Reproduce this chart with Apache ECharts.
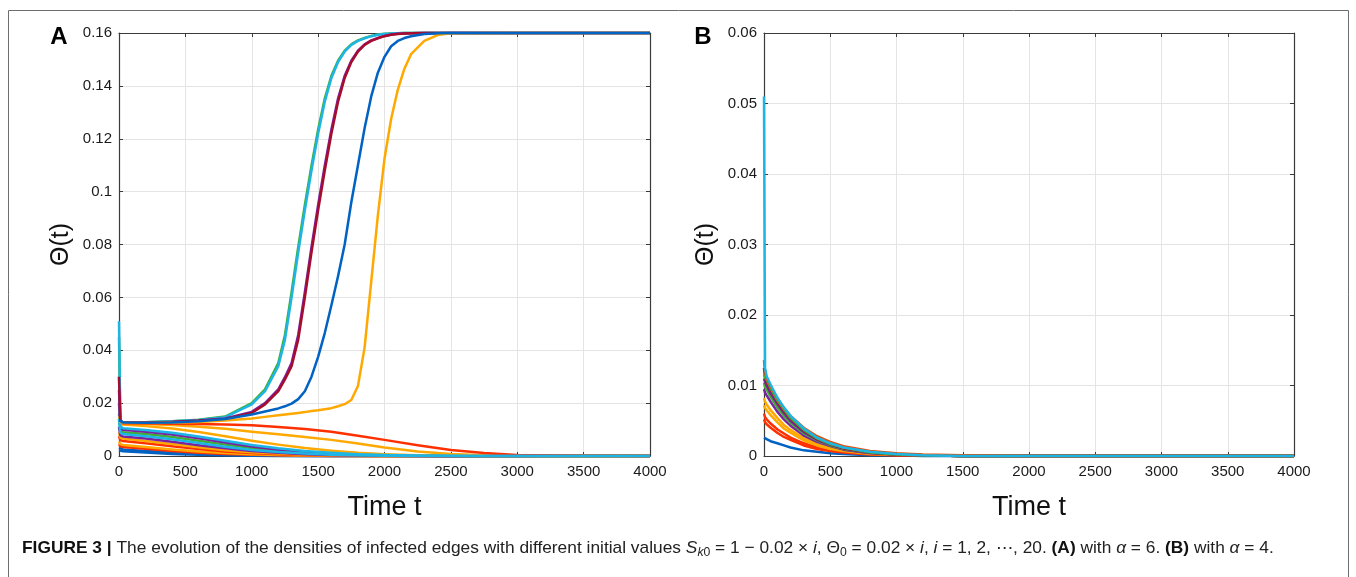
<!DOCTYPE html>
<html><head><meta charset="utf-8">
<script src="https://cdn.jsdelivr.net/npm/echarts@6/dist/echarts.min.js"></script>
<style>html,body{margin:0;padding:0;background:#fff}#c{width:1356px;height:577px}</style>
</head><body><div id="c"></div>
<script>
// ---------- axis settings ----------
const X_MAX = 4000, X_STEP = 500;
const YA_MAX = 0.16, YA_STEP = 0.02;
const YB_MAX = 0.06, YB_STEP = 0.01;

// ---------- panel A : rising curves ----------
const tRiseA = [0, 10, 30, 200, 400, 600, 800, 1000, 1100, 1200, 1250, 1300, 1350, 1400, 1450, 1500, 1550, 1600, 1650, 1700, 1750, 1800, 1850, 1900, 1950, 2000, 2050, 2100, 2150, 2200, 2300, 2400, 2500, 3000, 4000];
const greenRiseA = [0.045, 0.0134, 0.0127, 0.0128, 0.0131, 0.0137, 0.0149, 0.0200, 0.0252, 0.0352, 0.0458, 0.0620, 0.0790, 0.0950, 0.1098, 0.1235, 0.1352, 0.1438, 0.1495, 0.1533, 0.1557, 0.1572, 0.1581, 0.1589, 0.1594, 0.1597, 0.1598, 0.1599, 0.16, 0.16, 0.16, 0.16, 0.16, 0.16, 0.16];
const cyanRiseA = [0.051, 0.0135, 0.0127, 0.0128, 0.0131, 0.0136, 0.0147, 0.0195, 0.0245, 0.0340, 0.0440, 0.0600, 0.0770, 0.0930, 0.1080, 0.1220, 0.1340, 0.1430, 0.1490, 0.1530, 0.1555, 0.1570, 0.1580, 0.1588, 0.1593, 0.1596, 0.1598, 0.1599, 0.16, 0.16, 0.16, 0.16, 0.16, 0.16, 0.16];
const purpleRiseA = [0.025, 0.0131, 0.0126, 0.0127, 0.0129, 0.0134, 0.0142, 0.0167, 0.0200, 0.0252, 0.0298, 0.0352, 0.0458, 0.0620, 0.0790, 0.0950, 0.1098, 0.1235, 0.1352, 0.1438, 0.1495, 0.1533, 0.1557, 0.1572, 0.1581, 0.1589, 0.1594, 0.1597, 0.1598, 0.1599, 0.16, 0.16, 0.16, 0.16, 0.16];
const dredRiseA = [0.030, 0.0132, 0.0126, 0.0127, 0.0129, 0.0133, 0.0140, 0.0163, 0.0195, 0.0245, 0.0290, 0.0340, 0.0440, 0.0600, 0.0770, 0.0930, 0.1080, 0.1220, 0.1340, 0.1430, 0.1490, 0.1530, 0.1555, 0.1570, 0.1580, 0.1588, 0.1593, 0.1596, 0.1598, 0.1599, 0.16, 0.16, 0.16, 0.16, 0.16];
const amberRiseA = [0.0130, 0.0128, 0.0126, 0.0125, 0.0126, 0.0129, 0.0134, 0.0142, 0.0148, 0.0154, 0.0157, 0.0160, 0.0163, 0.0166, 0.0170, 0.0173, 0.0177, 0.0181, 0.0188, 0.0196, 0.0212, 0.0265, 0.0410, 0.0660, 0.0910, 0.1125, 0.1275, 0.1385, 0.1465, 0.1520, 0.1570, 0.1592, 0.1599, 0.16, 0.16];
const blueRiseA = [0.0135, 0.0130, 0.0127, 0.0126, 0.0127, 0.0131, 0.0140, 0.0157, 0.0168, 0.0180, 0.0188, 0.0198, 0.0215, 0.0245, 0.0300, 0.0375, 0.0465, 0.0570, 0.0680, 0.0800, 0.0960, 0.1100, 0.1240, 0.1360, 0.1450, 0.1510, 0.1550, 0.1570, 0.1581, 0.1588, 0.1596, 0.1599, 0.16, 0.16, 0.16];

// ---------- panel A : decaying curves ----------
const tDecA = [0, 10, 30, 200, 400, 600, 800, 1000, 1200, 1400, 1600, 1800, 2000, 2250, 2500, 2750, 3000, 3500, 4000];
const blueDecA2 = [0.0022, 0.0019, 0.0018, 0.0013, 0.0008, 0.0005, 0.0003, 0.0001, 0, 0, 0, 0, 0, 0, 0, 0, 0, 0, 0];
const blueDecA1 = [0.0032, 0.0027, 0.0025, 0.0019, 0.0013, 0.0008, 0.0005, 0.0003, 0.0001, 0, 0, 0, 0, 0, 0, 0, 0, 0, 0];
const redDecA3 = [0.0045, 0.0037, 0.0034, 0.0027, 0.0019, 0.0012, 0.0008, 0.0005, 0.0003, 0.0001, 0, 0, 0, 0, 0, 0, 0, 0, 0];
const amberDecA4 = [0.0055, 0.0045, 0.0042, 0.0034, 0.0025, 0.0017, 0.0011, 0.0007, 0.0004, 0.0002, 0.0001, 0, 0, 0, 0, 0, 0, 0, 0];
const redDecA2 = [0.0075, 0.0060, 0.0057, 0.0048, 0.0037, 0.0026, 0.0017, 0.0011, 0.0007, 0.0004, 0.0002, 0.0001, 0, 0, 0, 0, 0, 0, 0];
const amberDecA3 = [0.0090, 0.0070, 0.0066, 0.0057, 0.0045, 0.0033, 0.0022, 0.0014, 0.0009, 0.0005, 0.0003, 0.0001, 0, 0, 0, 0, 0, 0, 0];
const purpleDecA2 = [0.0110, 0.0078, 0.0074, 0.0066, 0.0054, 0.0041, 0.0029, 0.0019, 0.0012, 0.0007, 0.0004, 0.0002, 0.0001, 0, 0, 0, 0, 0, 0];
const greenDecA1 = [0.0160, 0.0095, 0.0090, 0.0083, 0.0072, 0.0058, 0.0043, 0.0030, 0.0019, 0.0012, 0.0007, 0.0004, 0.0002, 0.0001, 0, 0, 0, 0, 0];
const purpleDecA1 = [0.0200, 0.0105, 0.0099, 0.0092, 0.0081, 0.0067, 0.0051, 0.0036, 0.0024, 0.0015, 0.0009, 0.0005, 0.0003, 0.0001, 0, 0, 0, 0, 0];
const amberDecA2 = [0.0135, 0.0122, 0.0119, 0.0113, 0.0104, 0.0091, 0.0075, 0.0058, 0.0043, 0.0030, 0.0020, 0.0012, 0.0007, 0.0003, 0.0001, 0, 0, 0, 0];
const amberDecA1 = [0.0150, 0.0127, 0.0124, 0.0121, 0.0117, 0.0111, 0.0103, 0.0092, 0.0082, 0.0072, 0.0061, 0.0047, 0.0032, 0.0017, 0.0008, 0.0003, 0.0001, 0, 0];
const redDecA1 = [0.0140, 0.0128, 0.0124, 0.0123, 0.0122, 0.0121, 0.0119, 0.0116, 0.0110, 0.0102, 0.0092, 0.0077, 0.0061, 0.0041, 0.0023, 0.0011, 0.0004, 0.0001, 0];
const cyanDecA1 = [0.0300, 0.0112, 0.0105, 0.0098, 0.0088, 0.0074, 0.0058, 0.0042, 0.0029, 0.0019, 0.0012, 0.0007, 0.0004, 0.0002, 0.0001, 0, 0, 0, 0];
const cyanDecA2 = [0.0140, 0.0088, 0.0083, 0.0075, 0.0063, 0.0049, 0.0035, 0.0023, 0.0015, 0.0009, 0.0005, 0.0003, 0.0001, 0, 0, 0, 0, 0, 0];

// ---------- panel B : decaying curves ----------
const tB = [0, 8, 20, 50, 100, 150, 200, 300, 400, 500, 600, 800, 1000, 1200, 1500, 2000, 4000];
const blueB = [0.0026, 0.0025, 0.0024, 0.0021, 0.0018, 0.0015, 0.0012, 0.0008, 0.0006, 0.0004, 0.0003, 0.0001, 0.0001, 0, 0, 0, 0];
const redB1 = [0.0052, 0.0048, 0.0045, 0.0040, 0.0033, 0.0027, 0.0023, 0.0015, 0.0010, 0.0007, 0.0005, 0.0002, 0.0001, 0.0001, 0, 0, 0];
const redB2 = [0.0060, 0.0055, 0.0052, 0.0046, 0.0038, 0.0032, 0.0026, 0.0018, 0.0012, 0.0008, 0.0006, 0.0003, 0.0001, 0.0001, 0, 0, 0];
const amberB1 = [0.0072, 0.0068, 0.0065, 0.0058, 0.0048, 0.0039, 0.0033, 0.0022, 0.0015, 0.0010, 0.0007, 0.0003, 0.0002, 0.0001, 0, 0, 0];
const amberB2 = [0.0082, 0.0077, 0.0073, 0.0065, 0.0054, 0.0044, 0.0037, 0.0025, 0.0017, 0.0012, 0.0008, 0.0004, 0.0002, 0.0001, 0, 0, 0];
const purpleB1 = [0.0095, 0.0090, 0.0086, 0.0077, 0.0063, 0.0052, 0.0043, 0.0029, 0.0020, 0.0014, 0.0009, 0.0004, 0.0002, 0.0001, 0, 0, 0];
const greenB1 = [0.0104, 0.0098, 0.0094, 0.0084, 0.0069, 0.0057, 0.0047, 0.0032, 0.0022, 0.0015, 0.0010, 0.0005, 0.0002, 0.0001, 0, 0, 0];
const purpleB2 = [0.0110, 0.0105, 0.0100, 0.0089, 0.0074, 0.0061, 0.0050, 0.0034, 0.0023, 0.0016, 0.0011, 0.0005, 0.0002, 0.0001, 0, 0, 0];
const dredB = [0.0125, 0.0112, 0.0105, 0.0094, 0.0077, 0.0064, 0.0053, 0.0036, 0.0024, 0.0017, 0.0011, 0.0005, 0.0002, 0.0001, 0, 0, 0];
const greenB2 = [0.0115, 0.0111, 0.0108, 0.0096, 0.0079, 0.0066, 0.0054, 0.0037, 0.0025, 0.0017, 0.0012, 0.0005, 0.0002, 0.0001, 0, 0, 0];
const redB3 = [0.0136, 0.0120, 0.0110, 0.0099, 0.0082, 0.0068, 0.0057, 0.0040, 0.0028, 0.0020, 0.0014, 0.0007, 0.0004, 0.0002, 0.0001, 0, 0];
const cyanB = [0.0510, 0.0125, 0.0113, 0.0101, 0.0083, 0.0069, 0.0057, 0.0039, 0.0026, 0.0018, 0.0012, 0.0006, 0.0003, 0.0001, 0, 0, 0];

// ---------- styling ----------
const C = {blue:'#0062c2', red:'#ff3000', amber:'#ffa800', purple:'#7a22a0', green:'#3fae35', cyan:'#1db5e6', dred:'#a80c2c'};
const FONT = '"Liberation Sans", Arial, Helvetica, sans-serif';
const AX = '#3a3a3a';

function pairs(t, v){ return t.map((x, i) => [x, v[i]]); }
function line(gi, t, v, color){
  return {type:'line', xAxisIndex: gi*2, yAxisIndex: gi*2, data: pairs(t, v), symbol:'none', showSymbol:false,
    smooth:false, clip:false, silent:true,
    lineStyle:{width:2.5, color:color, join:'round'}, itemStyle:{color:color}};
}
function xAxes(gi){
  return [
    {gridIndex:gi, type:'value', min:0, max:X_MAX, interval:X_STEP, position:'bottom',
     name:'Time t', nameLocation:'middle', nameGap:38,
     nameTextStyle:{fontSize:27, color:'#111', fontFamily:FONT},
     axisLine:{show:true, onZero:false, lineStyle:{color:AX, width:1.2}},
     axisTick:{show:true, inside:true, length:4, lineStyle:{color:AX}},
     axisLabel:{show:true, margin:8, fontSize:15, color:'#1a1a1a', fontFamily:FONT, formatter:(v)=>String(v)},
     splitLine:{show:true, lineStyle:{color:'#e4e4e4', width:1}}},
    {gridIndex:gi, type:'value', min:0, max:X_MAX, interval:X_STEP, position:'top',
     axisLine:{show:true, onZero:false, lineStyle:{color:AX, width:1.2}},
     axisTick:{show:true, inside:true, length:4, lineStyle:{color:AX}},
     axisLabel:{show:false}, splitLine:{show:false}}
  ];
}
function yAxes(gi, yMax, yStep){
  return [
    {gridIndex:gi, type:'value', min:0, max:yMax, interval:yStep, position:'left',
     name:'Θ(t)', nameLocation:'middle', nameGap:45, nameRotate:90,
     nameTextStyle:{fontSize:25, color:'#111', fontFamily:FONT},
     axisLine:{show:true, onZero:false, lineStyle:{color:AX, width:1.2}},
     axisTick:{show:true, inside:true, length:4, lineStyle:{color:AX}},
     axisLabel:{show:true, margin:7, fontSize:15, color:'#1a1a1a', fontFamily:FONT},
     splitLine:{show:true, lineStyle:{color:'#e4e4e4', width:1}}},
    {gridIndex:gi, type:'value', min:0, max:yMax, interval:yStep, position:'right',
     axisLine:{show:true, onZero:false, lineStyle:{color:AX, width:1.2}},
     axisTick:{show:true, inside:true, length:4, lineStyle:{color:AX}},
     axisLabel:{show:false}, splitLine:{show:false}}
  ];
}

const seriesA = [
  line(0, tDecA, blueDecA2, C.blue), line(0, tDecA, blueDecA1, C.blue),
  line(0, tDecA, redDecA3, C.red), line(0, tDecA, amberDecA4, C.amber),
  line(0, tDecA, redDecA2, C.red), line(0, tDecA, amberDecA3, C.amber),
  line(0, tDecA, purpleDecA2, C.purple), line(0, tDecA, greenDecA1, C.green),
  line(0, tDecA, purpleDecA1, C.purple), line(0, tDecA, amberDecA2, C.amber),
  line(0, tDecA, amberDecA1, C.amber), line(0, tDecA, redDecA1, C.red),
  line(0, tDecA, cyanDecA1, C.cyan), line(0, tDecA, cyanDecA2, C.cyan),
  line(0, tRiseA, greenRiseA, C.green), line(0, tRiseA, cyanRiseA, C.cyan),
  line(0, tRiseA, purpleRiseA, C.purple), line(0, tRiseA, dredRiseA, C.dred),
  line(0, tRiseA, amberRiseA, C.amber), line(0, tRiseA, blueRiseA, C.blue)
];
const seriesB = [
  line(1, tB, blueB, C.blue), line(1, tB, redB1, C.red), line(1, tB, redB2, C.red),
  line(1, tB, amberB1, C.amber), line(1, tB, amberB2, C.amber), line(1, tB, purpleB1, C.purple),
  line(1, tB, greenB1, C.green), line(1, tB, purpleB2, C.purple), line(1, tB, dredB, C.dred),
  line(1, tB, greenB2, C.green), line(1, tB, redB3, '#e0500a'), line(1, tB, cyanB, C.cyan)
];

const caption = '{b|FIGURE 3 |}{n| The evolution of the densities of infected edges with different initial values }' +
  '{i|S}{sub|k}{sub0|0}{n| = 1 − 0.02 × }{i|i}{n|, Θ}{sub0|0}{n| = 0.02 × }{i|i}{n|, }{i|i}{n| = 1, 2, ⋯, 20. }' +
  '{b|(A)}{n| with }{i|α}{n| = 6. }{b|(B)}{n| with }{i|α}{n| = 4.}';

const chart = echarts.init(document.getElementById('c'));
chart.setOption({
  animation:false,
  backgroundColor:'#ffffff',
  grid:[
    {left:119, top:33, width:531, height:423, outerBoundsMode:'none', containLabel:false},
    {left:764, top:33, width:530, height:423, outerBoundsMode:'none', containLabel:false}
  ],
  xAxis:[...xAxes(0), ...xAxes(1)],
  yAxis:[...yAxes(0, YA_MAX, YA_STEP), ...yAxes(1, YB_MAX, YB_STEP)],
  series:[...seriesA, ...seriesB],
  graphic:[
    {type:'rect', silent:true, z:-10, shape:{x:8.5, y:10.5, width:1340, height:640},
     style:{fill:'none', stroke:'#6e6e6e', lineWidth:1}},
    {type:'text', silent:true, x:59, y:37, style:{text:'A', font:'bold 24px ' + FONT, fill:'#000', align:'center', verticalAlign:'middle'}},
    {type:'text', silent:true, x:703, y:37, style:{text:'B', font:'bold 24px ' + FONT, fill:'#000', align:'center', verticalAlign:'middle'}},
    {type:'text', silent:true, x:22, y:548, scaleX:1.02, originX:0,
     style:{text:caption, verticalAlign:'middle', align:'left',
       rich:{
         b:{fontFamily:FONT, fontSize:17, fontWeight:'bold', fill:'#111', lineHeight:22},
         n:{fontFamily:FONT, fontSize:17, fill:'#222', lineHeight:22},
         i:{fontFamily:FONT, fontSize:17, fontStyle:'italic', fill:'#222', lineHeight:22},
         sub:{fontFamily:FONT, fontSize:12, fontStyle:'italic', fill:'#222', lineHeight:12, verticalAlign:'bottom'},
         sub0:{fontFamily:FONT, fontSize:12, fill:'#222', lineHeight:12, verticalAlign:'bottom'}
       }}}
  ]
});
</script>
</body></html>
